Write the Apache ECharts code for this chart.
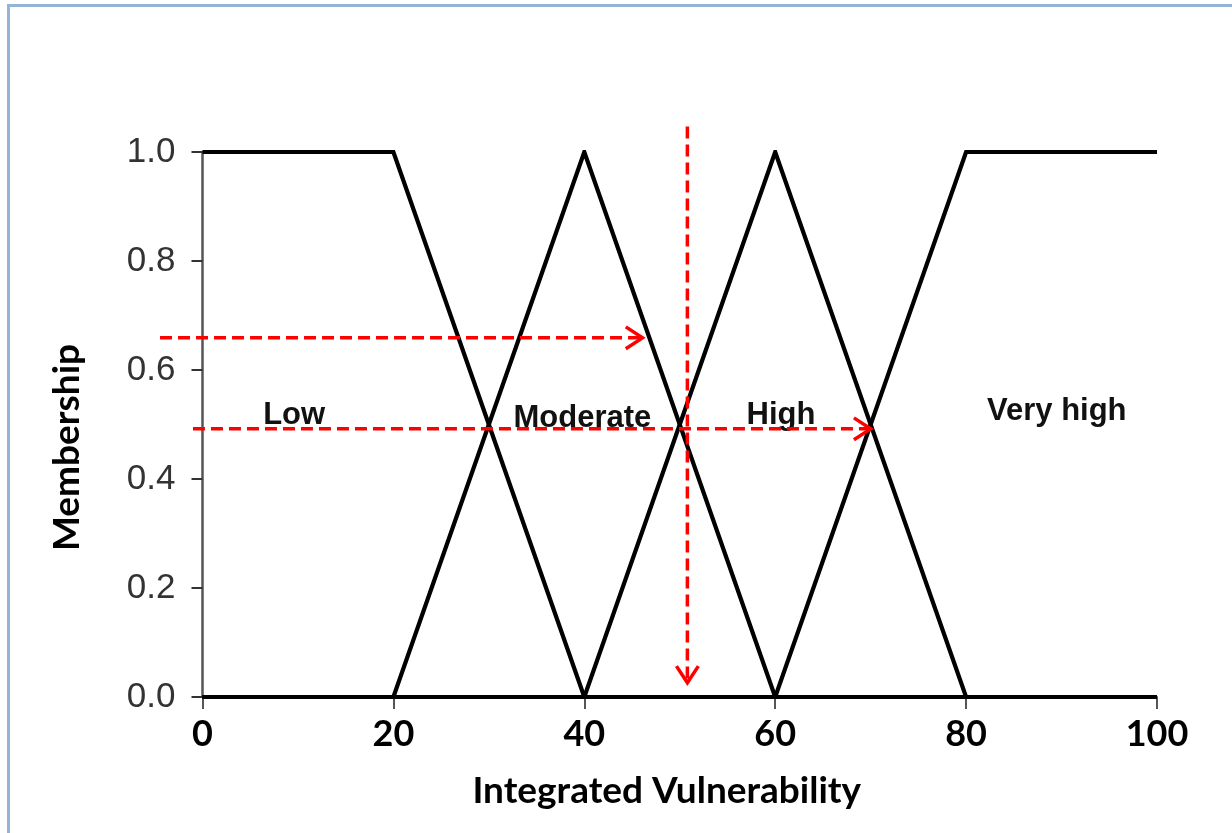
<!DOCTYPE html>
<html>
<head>
<meta charset="utf-8">
<script src="https://cdn.jsdelivr.net/npm/echarts@6/dist/echarts.min.js"></script>
<style>
  html, body { margin:0; padding:0; background:#fff; }
  #chart { position:absolute; left:0; top:0; width:1232px; height:833px; }
  #frame { position:absolute; left:7px; top:4px; width:1300px; height:900px;
           border-left:3px solid #95b3d7; border-top:3px solid #95b3d7; pointer-events:none; }
</style>
</head>
<body>
<div id="chart"></div>
<div id="frame"></div>
<script>
// Membership functions (x = integrated vulnerability, y = membership)
const lowPts      = [[0, 1], [20, 1], [40, 0], [100, 0]];
const moderatePts = [[0, 0], [20, 0], [40, 1], [60, 0], [100, 0]];
const highPts     = [[0, 0], [40, 0], [60, 1], [80, 0], [100, 0]];
const veryHighPts = [[0, 0], [60, 0], [80, 1], [100, 1]];

// Class labels placed in the chart
const classNames = ['Low', 'Moderate', 'High', 'Very high'];
const classX     = [9.6, 39.8, 60.6, 89.5];
const classY     = [0.517, 0.512, 0.517, 0.524];

// Red dashed arrows: [x0, y0, x1, y1] (arrowhead at x1,y1)
const arrows = [
  [-4.45, 0.659, 46.1, 0.659],
  [-1.0, 0.492, 70.0, 0.492],
  [50.8, 1.047, 50.8, 0.026]
];

// Axis ticks
const xTicks = [0, 20, 40, 60, 80, 100];
const yTicks = [0, 0.2, 0.4, 0.6, 0.8, 1.0];

const chart = echarts.init(document.getElementById('chart'), null, {renderer: 'canvas'});

const lineSeries = (name, pts) => ({
  name: name, type: 'line', data: pts, symbol: 'none', z: 3,
  lineStyle: {color: '#000', width: 4.2, join: 'miter'}
});

const option = {
  backgroundColor: '#fff',
  animation: false,
  grid: {left: 202.5, right: 75, top: 152, bottom: 136, containLabel: false},
  xAxis: {
    type: 'value', min: xTicks[0], max: xTicks[xTicks.length - 1], interval: 20,
    name: 'Integrated Vulnerability', nameLocation: 'middle', nameGap: 76,
    nameTextStyle: {fontFamily: 'Lato', fontWeight: 'bold', fontSize: 37, color: '#000', padding: [0, 26, 0, 0]},
    axisLine: {show: true, lineStyle: {color: '#555', width: 2}},
    axisTick: {show: true, length: 12, lineStyle: {color: '#555', width: 2}},
    axisLabel: {margin: 19, fontFamily: 'Lato', fontWeight: 'bold', fontSize: 36, color: '#000',
      formatter: v => String(v)},
    splitLine: {show: false}
  },
  yAxis: {
    type: 'value', min: yTicks[0], max: yTicks[yTicks.length - 1], interval: 0.2,
    name: 'Membership', nameLocation: 'middle', nameGap: 117, nameRotate: 90,
    nameTextStyle: {fontFamily: 'Lato', fontWeight: 'bold', fontSize: 37, color: '#000', padding: [0, 46, 0, 0]},
    axisLine: {show: true, lineStyle: {color: '#555', width: 2.5}},
    axisTick: {show: true, length: 11, lineStyle: {color: '#333', width: 2}},
    axisLabel: {margin: 27, fontFamily: 'Liberation Sans', fontSize: 35, color: '#333',
      formatter: v => v.toFixed(1)},
    splitLine: {show: false}
  },
  series: [
    lineSeries('Low', lowPts),
    lineSeries('Moderate', moderatePts),
    lineSeries('High', highPts),
    lineSeries('Very high', veryHighPts),
    {
      type: 'scatter', z: 4, symbolSize: 1, itemStyle: {color: 'rgba(0,0,0,0)', opacity: 1},
      data: classNames.map((n, i) => ({name: n, value: [classX[i], classY[i]]})),
      label: {show: true, position: 'inside', formatter: p => p.name, opacity: 1,
        fontFamily: 'Liberation Sans', fontWeight: 'bold', fontSize: 31, color: '#111'}
    },
    {
      type: 'custom', z: 5, clip: false,
      data: arrows,
      encode: {x: [0, 2], y: [1, 3]},
      renderItem: function (params, api) {
        const p1 = api.coord([api.value(0), api.value(1)]);
        const p2 = api.coord([api.value(2), api.value(3)]);
        const ang = Math.atan2(p2[1] - p1[1], p2[0] - p1[0]);
        const L = 20, A = 0.58;
        const a1 = [p2[0] - L * Math.cos(ang - A), p2[1] - L * Math.sin(ang - A)];
        const a2 = [p2[0] - L * Math.cos(ang + A), p2[1] - L * Math.sin(ang + A)];
        return {
          type: 'group',
          children: [
            {type: 'line', shape: {x1: p1[0], y1: p1[1], x2: p2[0] - 2 * Math.cos(ang), y2: p2[1] - 2 * Math.sin(ang)},
             style: {stroke: '#ff0000', lineWidth: 3.5, lineDash: [12, 6], fill: null}},
            {type: 'polyline', shape: {points: [a1, p2, a2]},
             style: {stroke: '#ff0000', lineWidth: 3.5, fill: null, lineJoin: 'miter'}}
          ]
        };
      }
    }
  ]
};
chart.setOption(option);
</script>
</body>
</html>
